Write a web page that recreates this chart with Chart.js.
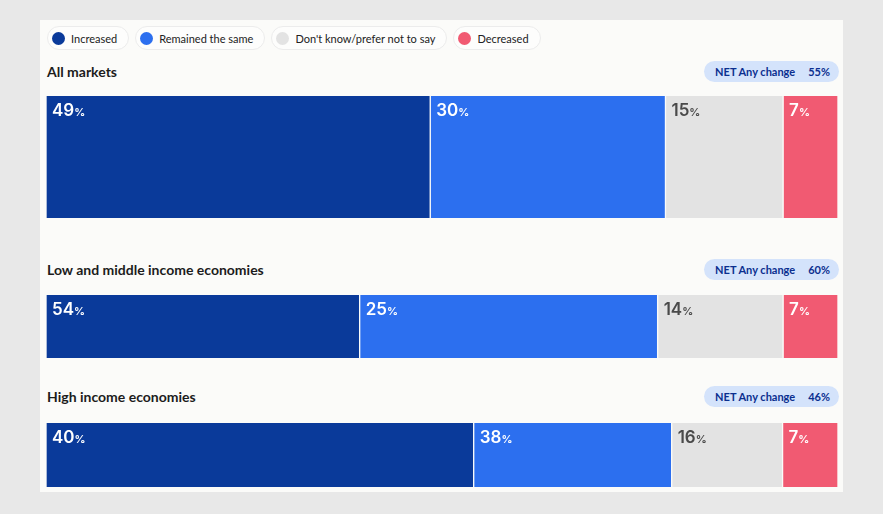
<!DOCTYPE html>
<html>
<head>
<meta charset="utf-8">
<script src="https://cdn.jsdelivr.net/npm/chart.js@4"></script>
<style>
  body { margin: 0; background: #e8e8e8; width: 883px; height: 514px; overflow: hidden; font-family: Lato, "Noto Sans", sans-serif; }
  #panel { position: absolute; left: 40px; top: 20px; width: 803px; height: 472px; background: #fbfbf9; }
  #legend { position: absolute; left: 47px; top: 26px; display: flex; gap: 6px; }
  .pill { display: flex; align-items: center; height: 22px; padding: 0 11px 0 4px; border: 1px solid #ececec; border-radius: 12px; font-size: 11px; color: #222; background: #fdfdfc; }
  .dot { width: 13px; height: 13px; border-radius: 50%; margin-right: 6px; }
  .title { position: absolute; left: 47px; font-size: 14px; font-weight: 700; color: #1c1c1c; }
  .net { position: absolute; right: 44px; height: 21px; line-height: 21px; padding: 0 9px 0 11px; border-radius: 11px; background: #d4e3fb; color: #0b2f8f; font-size: 11px; font-weight: 700; }
  .net span { margin-left: 13px; }
  .box { position: absolute; left: 46px; width: 792px; }
</style>
</head>
<body>
<div id="panel"></div>
<div id="legend"></div>
<div id="groups"></div>
<script>
// answer categories and colours
let categories = ["Increased", "Remained the same", "Don't know/prefer not to say", "Decreased"];
let colors = ["#0a3a9a", "#2c6fef", "#e3e3e3", "#f15a72"];
let labelColors = ["#ffffff", "#ffffff", "#4a4a4a", "#ffffff"];

let groups = ["All markets", "Low and middle income economies", "High income economies"];
let allMarkets = [49, 30, 15, 7];
let lowMiddle = [54, 25, 14, 7];
let highIncome = [40, 38, 16, 7];
let netAnyChange = [55, 60, 46];

// printed labels per row
let labelRows = [allMarkets, lowMiddle, highIncome];
// bar lengths as they are drawn in the original (rows 2 and 3 swapped against their labels)
let barRows = [allMarkets, highIncome, lowMiddle];

// layout of each group: title top, pill top, bar top, bar height
let rowTop = [61, 259, 386];
let barTop = [96, 295, 423];
let barHeight = [122, 63, 64];

// legend
let legend = document.getElementById("legend");
categories.forEach(function (c, i) {
    let p = document.createElement("div");
    p.className = "pill";
    p.innerHTML = '<div class="dot" style="background:' + colors[i] + '"></div>' + c;
    legend.appendChild(p);
});

// plugin that writes the big number + small % in the top left of each segment
let segLabels = {
    id: "segLabels",
    afterDatasetsDraw(chart) {
        let ctx = chart.ctx;
        let row = chart.options.plugins.segLabels.row;
        chart.data.datasets.forEach(function (ds, i) {
            let bar = chart.getDatasetMeta(i).data[0];
            let x = Math.min(bar.base, bar.x) + 6;
            let y = bar.y - bar.height / 2 + 20;
            ctx.save();
            ctx.fillStyle = labelColors[i];
            ctx.textBaseline = "alphabetic";
            ctx.font = "600 17px Inter";
            let num = String(labelRows[row][i]);
            ctx.fillText(num, x, y);
            let w = ctx.measureText(num).width;
            ctx.font = "600 11px Inter";
            ctx.fillText("%", x + w, y);
            ctx.restore();
        });
    }
};

let holder = document.getElementById("groups");
groups.forEach(function (g, r) {
    let t = document.createElement("div");
    t.className = "title";
    t.style.top = (rowTop[r] + 2) + "px";
    t.textContent = g;
    holder.appendChild(t);

    let n = document.createElement("div");
    n.className = "net";
    n.style.top = rowTop[r] + "px";
    n.innerHTML = "NET Any change<span>" + netAnyChange[r] + "%</span>";
    holder.appendChild(n);

    let box = document.createElement("div");
    box.className = "box";
    box.style.top = barTop[r] + "px";
    box.style.height = barHeight[r] + "px";
    let cv = document.createElement("canvas");
    box.appendChild(cv);
    holder.appendChild(box);

    let total = barRows[r].reduce(function (a, b) { return a + b; }, 0);
    new Chart(cv, {
        type: "bar",
        data: {
            labels: [g],
            datasets: categories.map(function (c, i) {
                return {
                    label: c,
                    data: [barRows[r][i]],
                    backgroundColor: colors[i],
                    borderColor: "#fbfbf9",
                    borderWidth: { left: 1, right: 1, top: 0, bottom: 0 },
                    borderSkipped: false,
                    barPercentage: 1,
                    categoryPercentage: 1
                };
            })
        },
        options: {
            indexAxis: "y",
            responsive: true,
            maintainAspectRatio: false,
            animation: false,
            layout: { padding: 0 },
            scales: {
                x: { stacked: true, display: false, min: 0, max: total },
                y: { stacked: true, display: false }
            },
            plugins: {
                legend: { display: false },
                tooltip: { enabled: false },
                segLabels: { row: r }
            }
        },
        plugins: [segLabels]
    });
});
</script>
</body>
</html>
